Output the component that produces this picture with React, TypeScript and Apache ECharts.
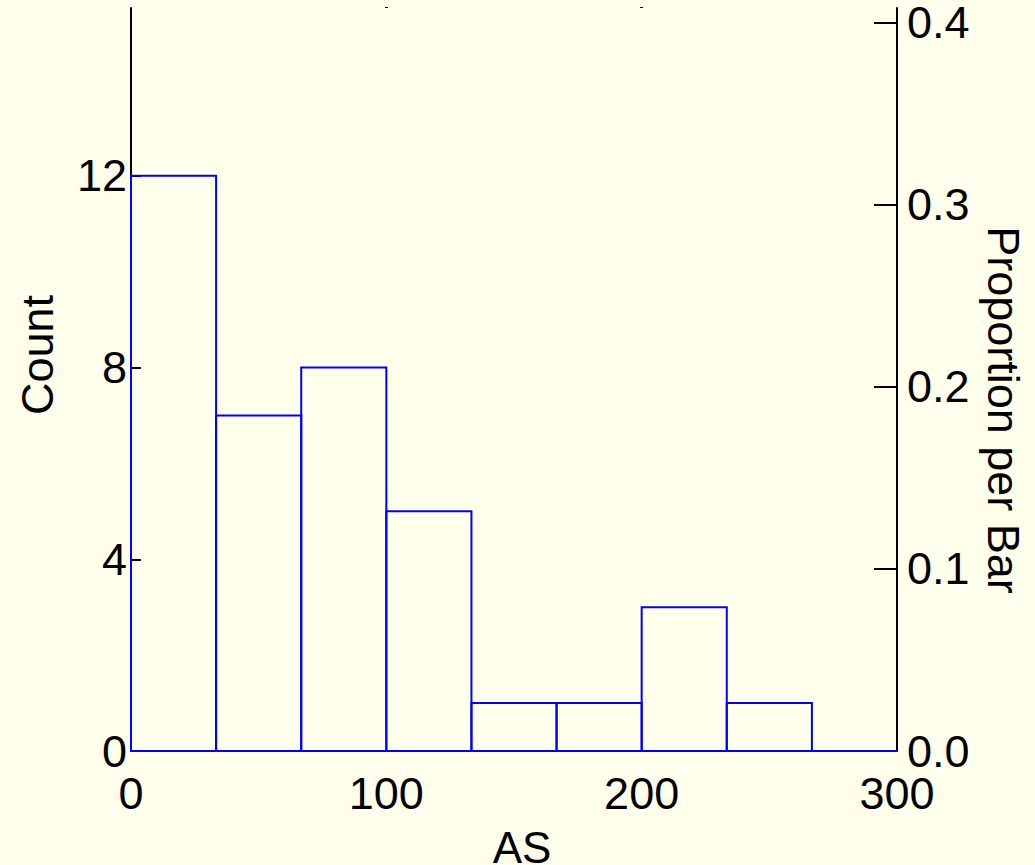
import React, { useEffect, useRef } from "react";
import * as echarts from "echarts";

const binEdges = [0, 33.33, 66.67, 100, 133.33, 166.67, 200, 233.33, 266.67, 300];
const counts = [12, 7, 8, 5, 1, 1, 3, 1, 0];
const countTicks = [0, 4, 8, 12];
const propTicks = [0, 0.1, 0.2, 0.3, 0.4];
const xTicks = [0, 100, 200, 300];

export default function App() {
  const ref = useRef<HTMLDivElement>(null);
  useEffect(() => {
    if (!ref.current) return;
    const chart = echarts.init(ref.current, undefined, { renderer: "svg" });
    const total = counts.reduce((a, b) => a + b, 0);
    const countMax = 15.5;
    const font = "Liberation Sans, Arial, sans-serif";
    const data = counts.map((c, i) => [binEdges[i], binEdges[i + 1], c]);
    chart.setOption({
      animation: false,
      backgroundColor: "#FFFFEB",
      grid: { left: 131, right: 138, top: 8, bottom: 114, outerBoundsMode: "none", containLabel: false },
      graphic: [
        {
          type: "text",
          x: 37,
          y: 355,
          rotation: Math.PI / 2,
          style: { text: "Count", fontSize: 45, fill: "#000", fontFamily: font, align: "center", verticalAlign: "middle" },
        },
        {
          type: "text",
          x: 1003,
          y: 410,
          rotation: -Math.PI / 2,
          style: { text: "Proportion per Bar", fontSize: 45, fill: "#000", fontFamily: font, align: "center", verticalAlign: "middle" },
        },
        {
          type: "text",
          x: 522,
          y: 847,
          style: { text: "AS", fontSize: 44, fill: "#000", fontFamily: font, align: "center", verticalAlign: "middle" },
        },
      ],
      xAxis: [
        {
          type: "value",
          min: 0,
          max: 300,
          axisLine: { show: false, onZero: false },
          axisTick: { show: false },
          splitLine: { show: false },
          axisLabel: {
            customValues: xTicks,
            fontSize: 45,
            color: "#000",
            fontFamily: font,
            margin: 20,
          },
        },
        {
          type: "value",
          position: "top",
          min: 0,
          max: 300,
          axisLine: { show: false, onZero: false },
          splitLine: { show: false },
          axisLabel: { show: false },
          axisTick: { show: true, customValues: [100, 200], length: 1, lineStyle: { color: "#000", width: 3 } },
        },
      ],
      yAxis: [
        {
          type: "value",
          position: "left",
          min: 0,
          max: countMax,
          axisLine: { show: true, onZero: false, lineStyle: { color: "#000", width: 2 } },
          axisTick: { show: true, inside: true, length: 10, customValues: countTicks, lineStyle: { color: "#000", width: 2 } },
          splitLine: { show: false },
          axisLabel: { customValues: countTicks, fontSize: 45, color: "#000", fontFamily: font, margin: 4 },
        },
        {
          type: "value",
          position: "right",
          min: 0,
          max: countMax / total,
          axisLine: { show: true, onZero: false, lineStyle: { color: "#000", width: 2 } },
          axisTick: { show: true, inside: true, length: 23, customValues: propTicks, lineStyle: { color: "#000", width: 2 } },
          splitLine: { show: false },
          axisLabel: {
            customValues: propTicks,
            fontSize: 45,
            color: "#000",
            fontFamily: font,
            margin: 10,
            formatter: (v: number) => v.toFixed(1),
          },
        },
      ],
      series: [
        {
          type: "custom",
          xAxisIndex: 0,
          yAxisIndex: 0,
          data,
          renderItem: (params: any, api: any) => {
            const x0 = api.value(0);
            const x1 = api.value(1);
            const c = api.value(2);
            const p0 = api.coord([x0, c]);
            const p1 = api.coord([x1, 0]);
            return {
              type: "rect",
              shape: { x: p0[0], y: p0[1], width: p1[0] - p0[0], height: p1[1] - p0[1] },
              style: { fill: "none", stroke: "#0000FF", lineWidth: 2 },
            };
          },
          z: 10,
        },
      ],
    });
    return () => chart.dispose();
  }, []);
  return <div ref={ref} style={{ position: "fixed", left: 0, top: 0, width: 1035, height: 865 }} />;
}
